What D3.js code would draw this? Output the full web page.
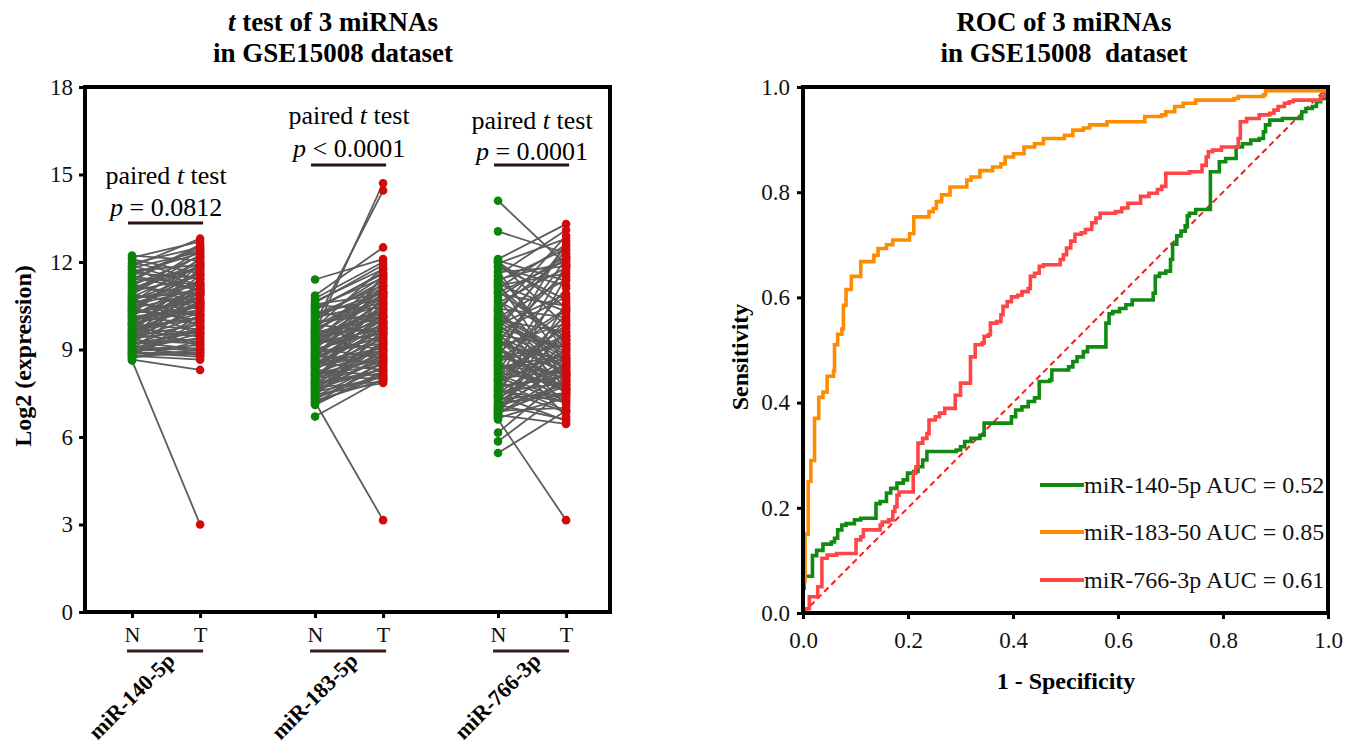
<!DOCTYPE html>
<html>
<head>
<meta charset="utf-8">
<script src="https://cdn.jsdelivr.net/npm/d3@7"></script>
<style>
  html, body { margin: 0; padding: 0; background: #fff; }
  svg { display: block; font-family: "Liberation Serif", "Times New Roman", serif; }
  .pre { white-space: pre; }
</style>
</head>
<body>
<svg id="chart" width="1357" height="749"></svg>
<script>
// ---------------- data ----------------
const groups = ["miR-140-5p", "miR-183-5p", "miR-766-3p"];
const pairLabels = ["N", "T"];
const leftYTicks = [0, 3, 6, 9, 12, 15, 18];
const pValues = ["= 0.0812", "< 0.0001", "= 0.0001"];

// paired expression values (N = normal, T = tumour), index-matched
const n140 = [8.62,12.22,12.1,11.95,11.85,11.7,11.6,11.5,11.4,11.3,11.2,11.15,11.0,10.95,10.85,10.8,10.7,10.62,10.55,10.5,10.42,10.35,10.3,10.22,10.15,10.1,10.05,9.98,9.92,9.85,9.8,9.74,9.68,9.6,9.55,9.5,9.45,9.4,9.32,9.28,9.2,9.15,9.1,9.05,9.0,8.95,8.9,8.85,8.8,8.75,8.7,8.65,12.0,11.75,11.55,11.1,10.9,10.68,10.38,10.2,9.95,9.7,9.48,9.25,9.08,8.98,11.88,10.48,9.88,9.35,8.78,11.25,10.75,10.28,9.62,
  11.8,11.45,11.05,10.78,10.58,10.32,10.12,9.9,9.66,9.42,9.22,9.02,8.82,12.15,11.62,10.88,10.45,10.05,9.78,9.52,9.18,8.92,8.72,11.35,10.65,10.18,9.84,9.38,8.88,9.58];
const t140 = [3.0,12.05,11.6,12.5,12.8,11.9,12.3,11.2,12.6,11.75,12.2,10.9,11.5,12.4,10.6,11.85,11.3,12.1,10.4,11.1,10.9,11.7,10.2,10.75,11.4,9.9,10.55,11.0,10.3,9.7,10.85,11.55,10.1,9.45,10.65,12.0,9.85,10.4,9.2,11.2,9.6,10.0,8.95,9.4,10.7,9.05,8.75,9.75,8.85,10.2,9.3,8.3,11.4,11.0,12.45,11.95,10.45,11.6,10.0,12.15,10.95,9.55,11.3,9.0,8.8,9.15,11.2,9.5,9.1,10.15,8.65,10.6,9.8,10.65,11.8,
  12.35,11.05,11.85,10.95,11.25,11.95,10.45,11.15,10.55,10.85,9.35,9.75,9.95,12.7,11.45,12.25,11.65,10.35,10.05,9.25,11.0,9.55,9.0,12.55,10.15,11.1,10.5,9.65,8.9,10.25];

const n183 = [7.2,9.6,9.9,11.4,10.85,10.6,10.5,10.4,10.3,10.2,10.1,10.0,9.95,9.85,9.8,9.7,9.65,9.55,9.5,9.45,9.4,9.35,9.3,9.25,9.2,9.1,9.05,9.0,8.95,8.9,8.85,8.8,8.75,8.7,8.65,8.6,8.55,8.5,8.45,8.4,8.35,8.3,8.25,8.2,8.15,8.1,8.05,8.0,7.95,7.9,7.85,7.8,7.75,7.7,7.65,7.6,7.55,7.5,7.45,7.4,7.35,7.3,7.25,7.15,7.1,6.7,10.75,10.65,9.75,9.15,8.68,8.25,7.95,10.25,9.58,9.02,8.52,
  10.45,10.15,9.88,9.62,9.38,9.12,8.88,8.62,8.38,8.12,7.88,7.62,7.38,7.18,10.55,10.05,9.48,9.22,8.78,8.48,8.18,7.72,7.48,10.35,9.68,8.92,8.42,7.82,7.58,9.28];
const t183 = [3.15,14.7,14.45,12.1,12.5,11.9,10.4,11.6,9.9,11.2,10.6,11.5,10.2,9.6,11.0,10.8,9.3,11.4,10.1,9.75,10.9,9.0,11.3,10.45,9.55,10.3,8.7,11.1,9.85,9.2,10.7,8.5,9.45,10.0,11.55,9.05,8.3,9.65,10.55,8.9,9.35,8.1,10.25,9.0,8.45,9.8,8.0,8.75,9.15,10.85,8.2,8.6,9.5,7.9,8.35,9.25,8.05,8.8,7.85,9.7,8.15,8.4,7.95,8.6,8.25,8.0,12.0,11.75,11.8,10.95,11.2,10.6,9.95,10.75,10.15,9.6,8.95,
  11.45,10.95,10.5,11.15,9.95,10.65,9.4,10.1,9.1,9.55,8.85,9.3,8.55,8.1,10.9,11.35,10.35,9.7,10.4,9.9,8.65,8.95,9.2,11.65,11.0,10.15,9.75,8.3,8.7,10.8];

const n766 = [6.6,14.1,13.05,12.1,12.0,11.95,11.8,11.7,11.55,11.4,11.3,11.2,11.1,11.0,10.9,10.8,10.7,10.6,10.5,10.4,10.3,10.2,10.1,10.0,9.9,9.8,9.7,9.6,9.5,9.4,9.3,9.2,9.1,9.0,8.9,8.8,8.7,8.6,8.5,8.4,8.3,8.2,8.1,8.0,7.9,7.8,7.7,7.6,7.5,7.4,7.3,7.2,7.1,7.0,6.9,6.8,6.75,6.7,6.65,6.15,5.85,5.45,11.85,11.5,10.95,10.35,9.85,9.35,8.95,8.45,7.95,7.45,7.05,12.05,11.25,9.65,8.65,7.65,6.95,9.15,10.05,
  9.45,9.05,8.75,8.55,8.35,8.15,7.85,7.55,7.35,7.15,6.85,9.75,9.25,8.85,8.25,7.75,7.25,6.95,10.15,10.65,11.15,11.65,8.05,7.95,9.55,8.45,7.65,7.05,6.8,10.45,9.95,8.62,7.42,11.35,12.0];
const t766 = [3.15,11.9,12.3,13.3,9.8,12.8,11.2,8.5,13.1,12.0,7.9,11.6,12.6,9.3,10.5,12.2,8.2,11.8,7.4,10.1,12.9,8.9,11.4,9.6,7.7,12.4,8.4,10.8,9.1,7.1,11.7,8.6,9.9,7.6,10.4,8.0,12.7,9.2,7.3,8.8,11.1,7.8,9.5,8.3,6.9,10.2,8.1,7.2,9.0,11.5,7.5,8.7,6.6,9.7,7.0,8.2,6.45,10.6,7.35,8.1,7.6,6.9,10.7,9.0,12.05,7.95,10.9,8.15,12.1,7.65,11.9,8.45,7.8,11.35,10.3,12.55,9.45,10.0,9.3,6.7,8.7,
  8.35,7.95,9.15,7.55,8.65,7.25,8.95,7.85,8.5,7.45,7.75,9.05,8.25,7.65,9.35,8.05,9.6,8.55,8.8,9.45,9.2,11.85,7.15,9.85,7.5,8.15,6.85,8.4,7.9,12.15,8.6,10.35,6.55,12.45,10.45];

const nSeries = [n140, n183, n766];
const tSeries = [t140, t183, t766];

// ROC curves: [1 - specificity, sensitivity] at each step
const rocNames = ["miR-140-5p AUC = 0.52", "miR-183-50 AUC = 0.85", "miR-766-3p AUC = 0.61"];
const rocColors = ["#118a11", "#ff8c00", "#ff4545"];
const roc140 = [[0,0],[0,0.047],[0.002,0.07],[0.018,0.109],[0.026,0.119],[0.038,0.131],[0.054,0.135],[0.06,0.142],[0.066,0.158],[0.074,0.167],[0.082,0.17],[0.098,0.177],[0.11,0.18],[0.139,0.208],[0.147,0.212],[0.159,0.228],[0.167,0.237],[0.179,0.247],[0.191,0.253],[0.199,0.266],[0.211,0.269],[0.219,0.278],[0.228,0.291],[0.236,0.307],[0.292,0.31],[0.3,0.316],[0.308,0.326],[0.32,0.332],[0.337,0.338],[0.345,0.361],[0.397,0.373],[0.405,0.386],[0.417,0.392],[0.429,0.402],[0.441,0.409],[0.45,0.44],[0.47,0.443],[0.474,0.462],[0.506,0.468],[0.514,0.478],[0.522,0.487],[0.534,0.497],[0.542,0.506],[0.577,0.551],[0.583,0.569],[0.59,0.573],[0.603,0.579],[0.615,0.586],[0.627,0.595],[0.667,0.608],[0.671,0.64],[0.679,0.646],[0.691,0.65],[0.7,0.672],[0.704,0.701],[0.712,0.717],[0.72,0.726],[0.728,0.736],[0.732,0.755],[0.736,0.76],[0.748,0.767],[0.776,0.839],[0.793,0.858],[0.805,0.864],[0.825,0.886],[0.837,0.892],[0.853,0.899],[0.869,0.902],[0.877,0.915],[0.881,0.928],[0.889,0.937],[0.913,0.94],[0.95,0.953],[0.958,0.959],[0.97,0.963],[0.978,0.972],[0.986,0.978],[0.994,0.985],[1,1]];
const roc183 = [[0,0],[0,0.06],[0.004,0.15],[0.01,0.25],[0.015,0.29],[0.022,0.37],[0.03,0.41],[0.038,0.42],[0.046,0.45],[0.058,0.46],[0.06,0.51],[0.066,0.53],[0.074,0.54],[0.077,0.585],[0.082,0.615],[0.092,0.64],[0.11,0.668],[0.135,0.68],[0.143,0.693],[0.159,0.7],[0.171,0.709],[0.203,0.721],[0.211,0.753],[0.24,0.763],[0.248,0.769],[0.254,0.782],[0.264,0.795],[0.28,0.81],[0.312,0.823],[0.32,0.829],[0.337,0.841],[0.361,0.848],[0.377,0.854],[0.385,0.867],[0.401,0.873],[0.421,0.886],[0.441,0.892],[0.458,0.902],[0.498,0.908],[0.514,0.918],[0.534,0.922],[0.546,0.928],[0.579,0.934],[0.651,0.944],[0.683,0.947],[0.691,0.953],[0.708,0.963],[0.724,0.969],[0.748,0.975],[0.821,0.978],[0.829,0.982],[0.877,0.985],[0.881,0.993],[1,1]];
const roc766 = [[0,0],[0.006,0.008],[0.012,0.031],[0.028,0.05],[0.036,0.104],[0.046,0.11],[0.064,0.113],[0.101,0.139],[0.11,0.145],[0.115,0.158],[0.147,0.167],[0.151,0.173],[0.163,0.177],[0.171,0.193],[0.175,0.202],[0.179,0.224],[0.183,0.23],[0.21,0.266],[0.215,0.278],[0.219,0.323],[0.228,0.332],[0.236,0.341],[0.24,0.367],[0.252,0.373],[0.26,0.38],[0.27,0.389],[0.29,0.414],[0.3,0.437],[0.319,0.487],[0.328,0.51],[0.341,0.513],[0.345,0.526],[0.353,0.529],[0.357,0.551],[0.369,0.554],[0.377,0.567],[0.381,0.583],[0.389,0.592],[0.397,0.601],[0.409,0.604],[0.417,0.611],[0.429,0.617],[0.433,0.64],[0.441,0.646],[0.45,0.659],[0.458,0.662],[0.49,0.672],[0.496,0.681],[0.502,0.694],[0.51,0.707],[0.518,0.72],[0.53,0.723],[0.538,0.729],[0.55,0.742],[0.558,0.751],[0.566,0.76],[0.595,0.763],[0.607,0.77],[0.619,0.779],[0.643,0.792],[0.659,0.798],[0.675,0.805],[0.683,0.811],[0.691,0.836],[0.736,0.839],[0.76,0.851],[0.768,0.867],[0.772,0.877],[0.78,0.88],[0.797,0.886],[0.829,0.902],[0.833,0.934],[0.845,0.94],[0.869,0.947],[0.889,0.95],[0.897,0.956],[0.905,0.963],[0.917,0.969],[0.926,0.972],[0.934,0.975],[0.986,0.982],[0.994,0.988],[1,1]];
const rocSeries = [roc140, roc183, roc766];
const rocTicks = [0, 0.2, 0.4, 0.6, 0.8, 1.0];

// ---------------- drawing ----------------
const svg = d3.select("#chart");
const FONT = '"Liberation Serif", "Times New Roman", serif';

// ===== Left panel =====
const L = { left: 85, right: 610, top: 87, bottom: 612 };
const xL = d3.scaleLinear().domain([-0.443, 2.426]).range([L.left, L.right]);
const yL = d3.scaleLinear().domain([0, 18]).range([L.bottom, L.top]);
const offs = 0.186;

const left = svg.append("g");

// title
const lt = left.append("text").attr("x", 333).attr("text-anchor", "middle")
  .attr("font-weight", "bold").attr("font-size", 27);
lt.append("tspan").attr("x", 333).attr("y", 31).attr("font-style", "italic").text("t");
lt.append("tspan").text(" test of 3 miRNAs");
left.append("text").attr("x", 333).attr("y", 62).attr("text-anchor", "middle")
  .attr("font-weight", "bold").attr("font-size", 27).text("in GSE15008 dataset");

// connecting lines + points
groups.forEach((g, gi) => {
  const ns = nSeries[gi], ts = tSeries[gi];
  const xn = xL(gi - offs), xt = xL(gi + offs);
  const gg = left.append("g");
  gg.selectAll("line").data(ns).join("line")
    .attr("x1", xn).attr("x2", xt)
    .attr("y1", d => yL(d)).attr("y2", (d, i) => yL(ts[i]))
    .attr("stroke", "#5c5c5c").attr("stroke-width", 1.8);
  gg.selectAll("circle.n").data(ns).join("circle").attr("class", "n")
    .attr("cx", xn).attr("cy", d => yL(d)).attr("r", 4.3).attr("fill", "#0a850a");
  gg.selectAll("circle.t").data(ts).join("circle").attr("class", "t")
    .attr("cx", xt).attr("cy", d => yL(d)).attr("r", 4.3).attr("fill", "#d00a0a");
});

// frame
left.append("rect").attr("x", L.left).attr("y", L.top)
  .attr("width", L.right - L.left).attr("height", L.bottom - L.top)
  .attr("fill", "none").attr("stroke", "#000").attr("stroke-width", 4);

// y axis
const yAxisL = left.append("g").attr("transform", `translate(${L.left},0)`)
  .call(d3.axisLeft(yL).tickValues(leftYTicks).tickSize(6).tickPadding(6));
yAxisL.select(".domain").remove();
yAxisL.selectAll(".tick line").attr("stroke-width", 3);
yAxisL.selectAll(".tick text").attr("font-family", FONT).attr("font-size", 23).attr("fill", "#111");

// x axis (N / T)
const tickPos = [];
groups.forEach((g, gi) => { tickPos.push(gi - offs, gi + offs); });
const xAxisL = left.append("g").attr("transform", `translate(0,${L.bottom})`)
  .call(d3.axisBottom(xL).tickValues(tickPos).tickSize(6).tickPadding(8)
    .tickFormat((d, i) => pairLabels[i % 2]));
xAxisL.select(".domain").remove();
xAxisL.selectAll(".tick line").attr("stroke-width", 3);
xAxisL.selectAll(".tick text").attr("font-family", FONT).attr("font-size", 22).attr("fill", "#111");

// group bars and rotated labels
groups.forEach((g, gi) => {
  const xn = xL(gi - offs), xt = xL(gi + offs), xc = xL(gi);
  left.append("line").attr("x1", xn - 5).attr("x2", xt + 3).attr("y1", 651).attr("y2", 651)
    .attr("stroke", "#3a1a1a").attr("stroke-width", 3);
  left.append("text").attr("text-anchor", "end").attr("font-weight", "bold").attr("font-size", 22)
    .attr("transform", `translate(${xc + 10},662) rotate(-45)`).text(g);
});

// y label
left.append("text").attr("transform", "translate(31,356) rotate(-90)")
  .attr("text-anchor", "middle").attr("font-weight", "bold").attr("font-size", 24)
  .text("Log2 (expression)");

// paired t test annotations
const annY = [[184, 216, 223], [124, 157, 165], [129, 160, 165]];
groups.forEach((g, gi) => {
  const xn = xL(gi - offs), xt = xL(gi + offs), xc = xL(gi);
  const [y1, y2, yb] = annY[gi];
  const a = left.append("text").attr("x", xc).attr("y", y1).attr("text-anchor", "middle").attr("font-size", 26);
  a.append("tspan").text("paired ");
  a.append("tspan").attr("font-style", "italic").text("t");
  a.append("tspan").text(" test");
  const b = left.append("text").attr("x", xc).attr("y", y2).attr("text-anchor", "middle").attr("font-size", 26);
  b.append("tspan").attr("font-style", "italic").text("p");
  b.append("tspan").text(" " + pValues[gi]);
  left.append("line").attr("x1", xn - 4).attr("x2", xt + 3).attr("y1", yb).attr("y2", yb)
    .attr("stroke", "#2a1212").attr("stroke-width", 3);
});

// ===== Right panel =====
const R = { left: 803, right: 1328, top: 87, bottom: 613 };
const xR = d3.scaleLinear().domain([0, 1]).range([R.left, R.right]);
const yR = d3.scaleLinear().domain([0, 1]).range([R.bottom, R.top]);
const right = svg.append("g");

right.append("text").attr("x", 1064).attr("y", 31).attr("text-anchor", "middle")
  .attr("font-weight", "bold").attr("font-size", 27).text("ROC of 3 miRNAs");
right.append("text").attr("class", "pre").attr("x", 1064).attr("y", 62).attr("text-anchor", "middle")
  .attr("font-weight", "bold").attr("font-size", 27).text("in GSE15008  dataset");

// diagonal reference
right.append("line").attr("x1", xR(0)).attr("y1", yR(0)).attr("x2", xR(1)).attr("y2", yR(1))
  .attr("stroke", "#ff1a1a").attr("stroke-width", 2).attr("stroke-dasharray", "6,4");

const line = d3.line().x(d => xR(d[0])).y(d => yR(d[1])).curve(d3.curveStepAfter);
[0, 2, 1].forEach(i => {
  right.append("path").datum(rocSeries[i]).attr("d", line)
    .attr("fill", "none").attr("stroke", rocColors[i]).attr("stroke-width", 3.6)
    .attr("stroke-linejoin", "miter");
});

right.append("rect").attr("x", R.left).attr("y", R.top)
  .attr("width", R.right - R.left).attr("height", R.bottom - R.top)
  .attr("fill", "none").attr("stroke", "#000").attr("stroke-width", 4);

const yAxisR = right.append("g").attr("transform", `translate(${R.left},0)`)
  .call(d3.axisLeft(yR).tickValues(rocTicks).tickSize(6).tickPadding(7).tickFormat(d3.format(".1f")));
yAxisR.select(".domain").remove();
yAxisR.selectAll(".tick line").attr("stroke-width", 3);
yAxisR.selectAll(".tick text").attr("font-family", FONT).attr("font-size", 23).attr("fill", "#111");

const xAxisR = right.append("g").attr("transform", `translate(0,${R.bottom})`)
  .call(d3.axisBottom(xR).tickValues(rocTicks).tickSize(6).tickPadding(13).tickFormat(d3.format(".1f")));
xAxisR.select(".domain").remove();
xAxisR.selectAll(".tick line").attr("stroke-width", 3);
xAxisR.selectAll(".tick text").attr("font-family", FONT).attr("font-size", 23).attr("fill", "#111");

right.append("text").attr("x", 1066).attr("y", 689).attr("text-anchor", "middle")
  .attr("font-weight", "bold").attr("font-size", 24).text("1 - Specificity");
right.append("text").attr("transform", "translate(748,357) rotate(-90)")
  .attr("text-anchor", "middle").attr("font-weight", "bold").attr("font-size", 24).text("Sensitivity");

// legend
const legY = [485, 532, 580];
rocNames.forEach((name, i) => {
  right.append("line").attr("x1", 1040).attr("x2", 1084).attr("y1", legY[i]).attr("y2", legY[i])
    .attr("stroke", rocColors[i]).attr("stroke-width", 4);
  right.append("text").attr("x", 1084).attr("y", legY[i]).attr("dy", "0.35em")
    .attr("font-size", 24).attr("fill", "#111").text(name);
});
</script>
</body>
</html>
